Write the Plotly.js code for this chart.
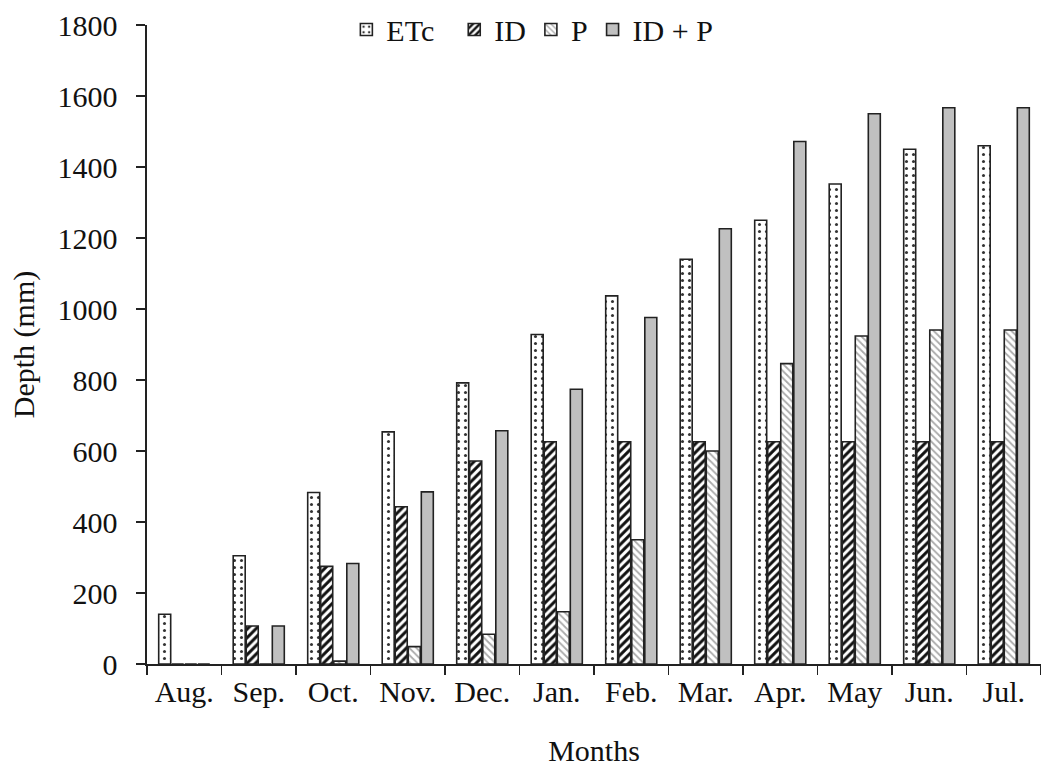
<!DOCTYPE html>
<html>
<head>
<meta charset="utf-8">
<script src="https://cdn.plot.ly/plotly-3.0.1.min.js"></script>
<style>html,body{margin:0;padding:0;background:#fff}#chart{width:1041px;height:769px}</style>
</head>
<body>
<div id="chart"></div>
<script>
const months = ["Aug.", "Sep.", "Oct.", "Nov.", "Dec.", "Jan.", "Feb.", "Mar.", "Apr.", "May", "Jun.", "Jul."];
const etc = [140, 305, 483, 654, 792, 928, 1037, 1140, 1250, 1352, 1450, 1460];
const idDepth = [0, 107, 275, 443, 572, 626, 626, 626, 626, 626, 626, 626];
const pDepth = [0, 0, 8, 49, 84, 147, 350, 600, 846, 924, 941, 941];
const idPlusP = [0, 107, 283, 485, 657, 774, 976, 1226, 1472, 1550, 1567, 1567];
const yTicks = [0, 200, 400, 600, 800, 1000, 1200, 1400, 1600, 1800];

const serif = "Liberation Serif, Times New Roman, serif";
const fs = 30;
const line = {color: "#222", width: 1.6};

const traces = [
  {type: "bar", name: "ETc\u00a0\u00a0", x: months, y: etc,
   marker: {color: "#fff", line: line, pattern: {shape: ".", fgcolor: "#333", bgcolor: "#fff", size: 7, solidity: 0.15}}},
  {type: "bar", name: "ID", x: months, y: idDepth,
   marker: {color: "#fff", line: line, pattern: {shape: "/", fgcolor: "#111", bgcolor: "#fff", size: 6, solidity: 0.5}}},
  {type: "bar", name: "P", x: months, y: pDepth,
   marker: {color: "#fff", line: line, pattern: {shape: "\\", fgcolor: "#aaa", bgcolor: "#fff", size: 5, solidity: 0.35}}},
  {type: "bar", name: "ID + P", x: months, y: idPlusP,
   marker: {color: "#c0c0c0", line: line}}
];

const layout = {
  width: 1041, height: 769,
  margin: {l: 147, r: 0, t: 25, b: 105},
  paper_bgcolor: "#fff", plot_bgcolor: "#fff",
  barmode: "group", bargap: 0.3, bargroupgap: 0.08,
  font: {family: serif, size: fs, color: "#111"},
  showlegend: true,
  legend: {orientation: "h", x: 0.223, y: 0.993, xanchor: "left", yanchor: "middle",
           font: {family: serif, size: fs, color: "#111"}, bgcolor: "rgba(0,0,0,0)",
           itemwidth: 30, tracegroupgap: 0},
  xaxis: {
    type: "category", showline: true, linecolor: "#222", linewidth: 1.6,
    ticks: "outside", ticklen: 9, tickcolor: "#222", tickwidth: 1.6,
    tickson: "boundaries", showgrid: false, zeroline: false,
    tickfont: {family: serif, size: fs, color: "#111"},
    title: {text: "Months", font: {family: serif, size: fs, color: "#111"}, standoff: 33}
  },
  yaxis: {
    range: [0, 1800], tickvals: yTicks, ticktext: yTicks.map(String),
    showline: true, linecolor: "#222", linewidth: 1.6,
    ticks: "outside", ticklen: 9, tickcolor: "#222", tickwidth: 1.6,
    ticklabelstandoff: 13,
    showgrid: false, zeroline: false,
    tickfont: {family: serif, size: fs, color: "#111"},
    title: {text: "Depth (mm)", font: {family: serif, size: fs, color: "#111"}, standoff: 14}
  }
};

Plotly.newPlot("chart", traces, layout, {displayModeBar: false, staticPlot: true});
</script>
</body>
</html>
